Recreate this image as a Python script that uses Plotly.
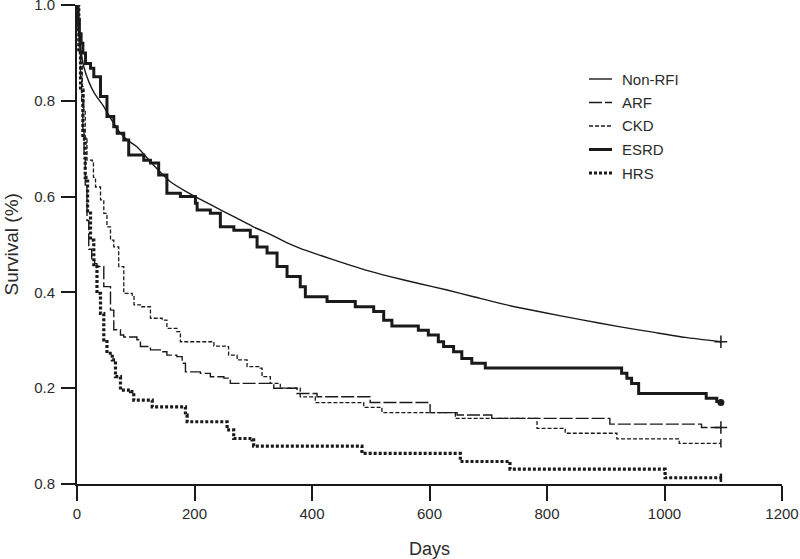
import plotly.graph_objects as go

# ---------------- data ----------------
series_names = ["Non-RFI", "ARF", "CKD", "ESRD", "HRS"]

nonrfi_days = [0, 1, 3, 6, 11.6, 20, 30, 45.6, 60, 74, 88, 102, 130, 159, 185, 215, 245, 272,
               300, 329, 355, 380, 415, 454, 490, 533, 580, 630, 675, 720, 790, 862, 920,
               975, 1035, 1096]
nonrfi_surv = [1.0, 0.97, 0.94, 0.91, 0.871, 0.84, 0.815, 0.788, 0.758, 0.732, 0.716, 0.704,
               0.666, 0.631, 0.611, 0.591, 0.572, 0.555, 0.537, 0.521, 0.505, 0.492, 0.477,
               0.461, 0.447, 0.433, 0.419, 0.405, 0.391, 0.377, 0.359, 0.342, 0.329, 0.318,
               0.306, 0.297]

arf_days = [0, 2, 4, 6, 8, 10, 12, 14, 17, 20, 25, 30, 34, 45.6, 57, 62.6, 74, 79.6, 102, 108,
            125, 142, 153, 170, 179, 184.6, 210, 227, 250, 261, 335, 374.5, 408.6, 499, 601,
            647, 706, 907, 1063, 1096]
arf_surv = [1.0, 0.95, 0.90, 0.85, 0.80, 0.74, 0.68, 0.62, 0.55, 0.49, 0.47, 0.46, 0.454,
            0.412, 0.363, 0.322, 0.311, 0.307, 0.301, 0.287, 0.280, 0.276, 0.269, 0.266,
            0.252, 0.234, 0.231, 0.224, 0.221, 0.210, 0.200, 0.189, 0.182, 0.170, 0.149,
            0.144, 0.137, 0.125, 0.118, 0.118]

ckd_days = [0, 2, 4, 6, 9, 11.6, 14, 17, 26, 28, 31.5, 40, 45.6, 51, 57, 62.6, 71, 79.6, 94, 97,
            108, 125, 145, 153, 170, 176, 233, 255, 258, 272.5, 289.5, 312, 315, 329, 346,
            380, 405.6, 488, 519, 644, 783, 831, 919, 1025, 1096]
ckd_surv = [1.0, 0.96, 0.92, 0.885, 0.83, 0.78, 0.72, 0.676, 0.67, 0.64, 0.62, 0.593, 0.565,
            0.537, 0.509, 0.495, 0.454, 0.398, 0.391, 0.374, 0.370, 0.346, 0.342, 0.325,
            0.318, 0.297, 0.288, 0.287, 0.269, 0.259, 0.245, 0.242, 0.224, 0.210, 0.200,
            0.182, 0.170, 0.160, 0.149, 0.137, 0.116, 0.106, 0.094, 0.085, 0.085]

esrd_days = [0, 2, 4, 7, 10, 14.5, 23, 28.6, 40, 51, 62.6, 68.4, 79.6, 88, 113.6, 125, 139, 153,
             176, 201.6, 204.5, 227, 244, 267, 295, 306.5, 323.5, 340.5, 357.5, 380, 388.7,
             425.6, 473.7, 505, 522, 536, 581, 598, 615, 624, 641, 655, 672, 695, 927, 936,
             944, 956, 1071, 1089, 1096]
esrd_surv = [1.0, 0.97, 0.94, 0.92, 0.90, 0.878, 0.868, 0.850, 0.809, 0.767, 0.746, 0.732,
             0.718, 0.687, 0.676, 0.670, 0.645, 0.607, 0.600, 0.586, 0.572, 0.565, 0.537,
             0.530, 0.516, 0.495, 0.482, 0.454, 0.433, 0.412, 0.391, 0.381, 0.370, 0.360,
             0.342, 0.330, 0.321, 0.311, 0.297, 0.287, 0.276, 0.262, 0.252, 0.242, 0.231,
             0.221, 0.210, 0.189, 0.179, 0.172, 0.170]

hrs_days = [0, 3, 6, 10, 14, 18, 23, 28.6, 34, 40, 45.6, 51, 60, 65.5, 74, 91, 96.6, 128, 184.6,
            187.5, 255.5, 266.7, 298, 300.7, 485, 652.5, 737, 1001, 1096]
hrs_surv = [1.0, 0.90, 0.82, 0.72, 0.64, 0.57, 0.509, 0.454, 0.398, 0.356, 0.301, 0.273, 0.259,
            0.224, 0.196, 0.193, 0.175, 0.161, 0.144, 0.130, 0.113, 0.095, 0.092, 0.079,
            0.064, 0.047, 0.031, 0.013, 0.013]

x_ticks = [0, 200, 400, 600, 800, 1000, 1200]
y_tickvals = [0.0, 0.2, 0.4, 0.6, 0.8, 1.0]
y_ticktext = ["0.8", "0.2", "0.4", "0.6", "0.8", "1.0"]

# ---------------- styles ----------------
INK = "#1a1a1a"
TXT = "#2b2b2b"
FONT = "Liberation Sans, Arial, Helvetica, sans-serif"

styles = {
    "Non-RFI": dict(width=1.4, dash="solid", shape="spline"),
    "ARF": dict(width=1.4, dash="13px,3px", shape="hv"),
    "CKD": dict(width=1.3, dash="4px,2px", shape="hv"),
    "ESRD": dict(width=3.0, dash="solid", shape="hv"),
    "HRS": dict(width=3.2, dash="3px,2px", shape="hv"),
}
end_marks = {
    "Non-RFI": dict(symbol="cross-thin", size=9, line=dict(width=1.5, color=INK)),
    "ARF": dict(symbol="cross-thin", size=9, line=dict(width=1.5, color=INK)),
    "CKD": dict(symbol="line-ns", size=6, line=dict(width=1.5, color=INK)),
    "ESRD": dict(symbol="circle", size=7, color=INK, line=dict(width=0)),
    "HRS": dict(symbol="line-ns", size=6, line=dict(width=2.5, color=INK)),
}

data = {
    "Non-RFI": (nonrfi_days, nonrfi_surv),
    "ARF": (arf_days, arf_surv),
    "CKD": (ckd_days, ckd_surv),
    "ESRD": (esrd_days, esrd_surv),
    "HRS": (hrs_days, hrs_surv),
}

fig = go.Figure()
for name in series_names:
    xs, ys = data[name]
    st = styles[name]
    line = dict(color=INK, width=st["width"], dash=st["dash"], shape=st["shape"])
    if st["shape"] == "spline":
        line["smoothing"] = 0.6
    fig.add_trace(go.Scatter(
        x=xs, y=ys, mode="lines", name=name, showlegend=False, cliponaxis=False,
        line=line,
    ))
    fig.add_trace(go.Scatter(
        x=[xs[-1]], y=[ys[-1]], mode="markers", showlegend=False, cliponaxis=False,
        marker=end_marks[name], hoverinfo="skip",
    ))

# ---------------- manual legend (paper coords) ----------------
L, R, T, B = 77, 18, 5, 75
W, H = 800, 559
pw, ph = W - L - R, H - T - B

def px_x(px):
    return (px - L) / pw

def px_y(py):
    return (H - B - py) / ph

legend_rows = [79, 102.5, 126, 149.5, 173]
for name, row in zip(series_names, legend_rows):
    st = styles[name]
    fig.add_shape(type="line", xref="paper", yref="paper",
                  x0=px_x(589), x1=px_x(612), y0=px_y(row), y1=px_y(row),
                  line=dict(color=INK, width=st["width"], dash=st["dash"]))
    fig.add_annotation(xref="paper", yref="paper", x=px_x(620), y=px_y(row),
                       text=name, showarrow=False, xanchor="left", yanchor="middle",
                       font=dict(family=FONT, size=15, color=TXT))

# axis titles as annotations for exact placement
fig.add_annotation(xref="paper", yref="paper", x=0.5, y=px_y(549),
                   text="Days", showarrow=False, xanchor="center", yanchor="middle",
                   font=dict(family=FONT, size=18, color=TXT))
fig.add_annotation(xref="paper", yref="paper", x=px_x(11), y=0.5,
                   text="Survival (%)", showarrow=False, textangle=-90,
                   xanchor="center", yanchor="middle",
                   font=dict(family=FONT, size=19, color=TXT))

fig.update_layout(
    width=W, height=H,
    margin=dict(l=L, r=R, t=T, b=B, autoexpand=False),
    paper_bgcolor="white", plot_bgcolor="white",
    font=dict(family=FONT, size=15, color=TXT),
    showlegend=False,
)
fig.update_xaxes(
    range=[0, 1200], tickvals=x_ticks, ticktext=[str(v) for v in x_ticks],
    automargin=False, ticklabeloverflow="allow",
    showgrid=False, zeroline=False, showline=True, linecolor=INK, linewidth=2,
    ticks="outside", ticklen=15, tickwidth=2, tickcolor=INK,
    tickfont=dict(family=FONT, size=15, color=TXT),
)
fig.update_yaxes(
    range=[0, 1.0], tickvals=y_tickvals, ticktext=y_ticktext,
    automargin=False, ticklabelstandoff=3, ticklabeloverflow="allow",
    showgrid=False, zeroline=False, showline=True, linecolor=INK, linewidth=2,
    ticks="outside", ticklen=14, tickwidth=2, tickcolor=INK,
    tickfont=dict(family=FONT, size=15, color=TXT),
)

fig.write_html(
    "out.html",
    config={"displayModeBar": False},
    post_script="document.body.style.margin='0';document.body.style.overflow='hidden';",
)
